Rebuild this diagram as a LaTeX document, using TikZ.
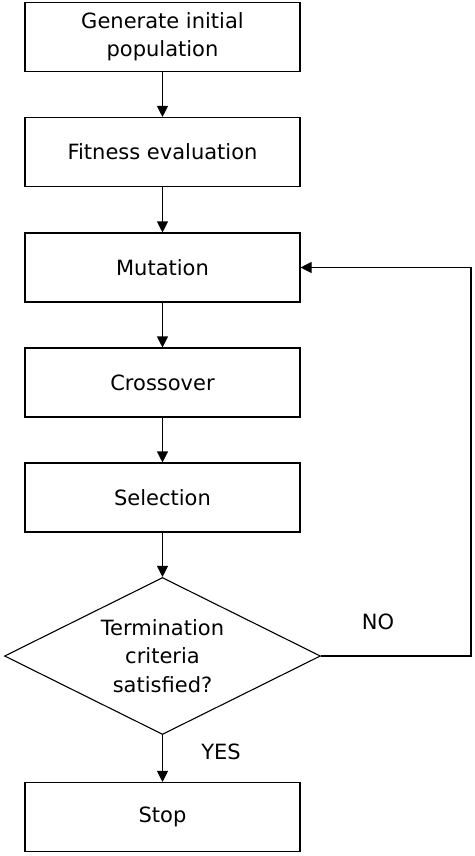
\documentclass[tikz,border=0pt]{standalone}
\usepackage{fontspec}
\setmainfont{DejaVu Sans}
\usetikzlibrary{shapes.geometric,arrows.meta}

\begin{document}
\begin{tikzpicture}[x=1pt,y=-1pt,line width=1.1pt,
    etape/.style={draw,rectangle,minimum width=275pt,minimum height=69pt,inner sep=0pt,align=center,font=\fontsize{21}{28}\selectfont},
    test/.style={draw,diamond,aspect=2,minimum width=316pt,minimum height=157pt,inner sep=0pt,align=center,font=\fontsize{21}{28.5}\selectfont},
    fleche/.style={-{Triangle[length=11pt,width=11pt]}}]
    \def \xc {162.5}; % centre des boites
    \def \xret {471}; % ligne de retour
    \useasboundingbox (0,0) rectangle (474,856);
    \node[etape] (init) at (\xc,37) {Generate initial\\population};
    \node[etape] (fit) at (\xc,152) {Fitness evaluation};
    \node[etape] (mut) at (\xc,267.5) {Mutation};
    \node[etape] (cross) at (\xc,382.5) {Crossover};
    \node[etape] (sel) at (\xc,497.5) {Selection};
    \node[test] (crit) at (\xc,656) {Termination\\criteria\\satisfied?};
    \node[etape] (stop) at (\xc,817) {Stop};
    \coordinate (ret) at (\xret,656);
    \foreach \a/\b in {init/fit,fit/mut,mut/cross,cross/sel,sel/crit,crit/stop}
    \draw[fleche] (\a) -- (\b);
    \draw[fleche] (crit.east) -- (ret) |- (mut.east);
    \node[font=\fontsize{21}{24}\selectfont] (non) at (378,622) {NO};
    \node[font=\fontsize{21}{24}\selectfont] (oui) at (221,752) {YES};
\end{tikzpicture}
\end{document}
